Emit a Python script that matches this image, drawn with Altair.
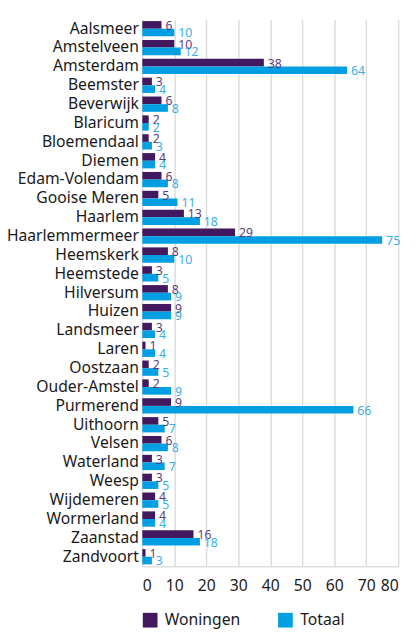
import altair as alt
import pandas as pd

gemeenten = ["Aalsmeer", "Amstelveen", "Amsterdam", "Beemster", "Beverwijk", "Blaricum",
             "Bloemendaal", "Diemen", "Edam-Volendam", "Gooise Meren", "Haarlem",
             "Haarlemmermeer", "Heemskerk", "Heemstede", "Hilversum", "Huizen", "Landsmeer",
             "Laren", "Oostzaan", "Ouder-Amstel", "Purmerend", "Uithoorn", "Velsen",
             "Waterland", "Weesp", "Wijdemeren", "Wormerland", "Zaanstad", "Zandvoort"]
woningen = [6, 10, 38, 3, 6, 2, 2, 4, 6, 5, 13, 29, 8, 3, 8, 9, 3, 1, 2, 2, 9, 5, 6, 3, 3, 4, 4, 16, 1]
totaal = [10, 12, 64, 4, 8, 2, 3, 4, 8, 11, 18, 75, 10, 5, 9, 9, 4, 4, 5, 9, 66, 7, 8, 7, 5, 5, 4, 18, 3]
reeksen = ["Woningen", "Totaal"]
x_ticks = [0, 10, 20, 30, 40, 50, 60, 70, 80]

rows = []
for g, w, t in zip(gemeenten, woningen, totaal):
    rows.append({"gemeente": g, "reeks": "Woningen", "waarde": w})
    rows.append({"gemeente": g, "reeks": "Totaal", "waarde": t})
df = pd.DataFrame(rows)

FONT = "Noto Sans"

y = alt.Y("gemeente:N", sort=gemeenten, title=None,
          scale=alt.Scale(paddingInner=0.19, paddingOuter=0.1),
          axis=alt.Axis(domain=False, ticks=False, labelFontSize=16, labelColor="#1a1a1a",
                        labelPadding=4, labelFont=FONT))
yoff = alt.YOffset("reeks:N", sort=reeksen, scale=alt.Scale(domain=reeksen, paddingInner=0, paddingOuter=0))
x = alt.X("waarde:Q", stack=None, title=None,
          scale=alt.Scale(domain=[0, 80], nice=False),
          axis=alt.Axis(values=x_ticks, grid=True, gridColor="#dddddd", gridWidth=1.5,
                        domainColor="#dddddd", domainWidth=1.5, ticks=False,
                        labelFontSize=16, labelColor="#1a1a1a", labelPadding=12, labelFont=FONT))

bars = alt.Chart(df).mark_bar(cornerRadius=0).encode(
    x=x, y=y, yOffset=yoff,
    color=alt.Color("reeks:N", sort=reeksen,
                    scale=alt.Scale(domain=reeksen, range=["#42185e", "#009fe3"]),
                    legend=alt.Legend(title=None, orient="none", direction="horizontal",
                                      legendX=0, legendY=605, symbolType="square",
                                      symbolSize=225, symbolStrokeWidth=0, labelFontSize=16,
                                      labelColor="#1a1a1a", labelFont=FONT, labelOffset=7,
                                      columnPadding=38)),
)

labels = alt.Chart(df).mark_text(align="left", baseline="middle", dx=4, dy=1, fontSize=12.5, font=FONT).encode(
    x=x, y=y, yOffset=yoff,
    text="waarde:Q",
    color=alt.Color("reeks:N", sort=reeksen,
                    scale=alt.Scale(domain=reeksen, range=["#5b3d7c", "#3aaee8"]),
                    legend=None),
)

chart = (bars + labels).resolve_scale(color="independent").properties(
    width=261, height=558,
    autosize=alt.AutoSizeParams(type="none"),
    padding={"left": 137, "top": 5, "right": 10, "bottom": 80},
).configure_view(stroke=None)

chart.save("out.html", embed_options={"renderer": "svg", "actions": False})
